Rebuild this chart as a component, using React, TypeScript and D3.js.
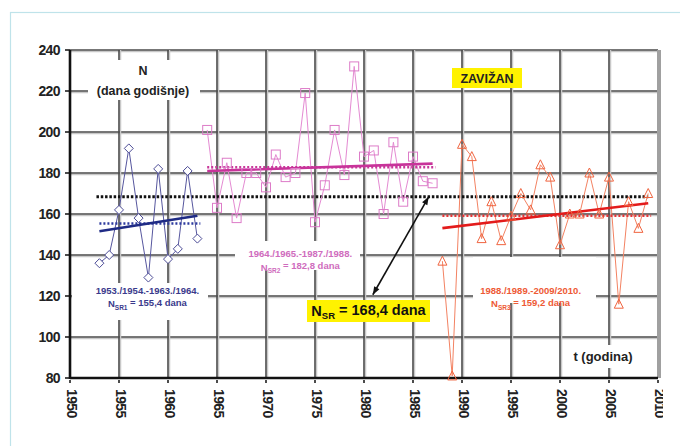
import React from "react";
import * as d3 from "d3";

// period 1: 1953/54 - 1963/64
const years1 = [1953, 1954, 1955, 1956, 1957, 1958, 1959, 1960, 1961, 1962, 1963];
const values1 = [136, 140, 162, 192, 158, 129, 182, 138, 143, 181, 148];
// period 2: 1964/65 - 1987/88
const years2 = [1964, 1965, 1966, 1967, 1968, 1969, 1970, 1971, 1972, 1973, 1974, 1975,
  1976, 1977, 1978, 1979, 1980, 1981, 1982, 1983, 1984, 1985, 1986, 1987];
const values2 = [201, 163, 185, 158, 180, 180, 173, 189, 178, 180, 219, 156,
  174, 201, 179, 232, 188, 191, 160, 195, 166, 188, 176, 175];
// period 3: 1988/89 - 2009/10
const years3 = [1988, 1989, 1990, 1991, 1992, 1993, 1994, 1995, 1996, 1997, 1998,
  1999, 2000, 2001, 2002, 2003, 2004, 2005, 2006, 2007, 2008, 2009];
const values3 = [137, 81, 194, 188, 148, 166, 147, 159, 170, 162, 184,
  178, 145, 160, 160, 180, 160, 178, 116, 166, 153, 170];

const xTicks = [1950, 1955, 1960, 1965, 1970, 1975, 1980, 1985, 1990, 1995, 2000, 2005, 2010];
const yTicks = [80, 100, 120, 140, 160, 180, 200, 220, 240];

const periodLabels = ["1953./1954.-1963./1964.", "1964./1965.-1987./1988.", "1988./1989.-2009/2010."];
const meanLabels = ["155,4", "182,8", "159,2"];

const W = 680;
const H = 446;
const x = d3.scaleLinear().domain([1950, 2010]).range([70, 658]);
const y = d3.scaleLinear().domain([80, 240]).range([378, 50]);

const FONT = "'Liberation Sans', Arial, sans-serif";

function fit(xs: number[], ys: number[]) {
  const mx = d3.mean(xs)!;
  const my = d3.mean(ys)!;
  let num = 0, den = 0;
  xs.forEach((v, i) => { num += (v - mx) * (ys[i] - my); den += (v - mx) ** 2; });
  const b = num / den;
  return (t: number) => my + b * (t - mx);
}

const series = [
  { years: years1, values: values1, line: "#56569e", mark: "#4b4b96", trend: "#1f2b85", dot: "#2d3a9e", text: "#3a3a8c", shape: "diamond" },
  { years: years2, values: values2, line: "#e48ad2", mark: "#dd7cc8", trend: "#c8339a", dot: "#c8389a", text: "#cf6cbd", shape: "square" },
  { years: years3, values: values3, line: "#f38262", mark: "#f0643f", trend: "#e31b1b", dot: "#e63535", text: "#ee5a35", shape: "triangle" },
];

function Marker({ shape, cx, cy, color }: { shape: string; cx: number; cy: number; color: string }) {
  if (shape === "diamond") {
    return <path d={`M${cx},${cy - 4.5}L${cx + 4.5},${cy}L${cx},${cy + 4.5}L${cx - 4.5},${cy}Z`} fill="white" stroke={color} strokeWidth={1} />;
  }
  if (shape === "square") {
    return <rect x={cx - 4.5} y={cy - 4.5} width={9} height={9} fill="none" stroke={color} strokeWidth={1} />;
  }
  return <path d={`M${cx},${cy - 5}L${cx + 4.5},${cy + 4}L${cx - 4.5},${cy + 4}Z`} fill="none" stroke={color} strokeWidth={1} />;
}

export default function App() {
  const line = d3.line<[number, number]>().x(d => x(d[0])).y(d => y(d[1]));
  const allValues = [...values1, ...values2, ...values3];
  const overall = d3.mean(allValues)!;
  const labelPos = [
    { cx: 1957.9, cy: 120, box: [72, 283, 208, 320] },
    { cx: 1973.5, cy: 138, box: [235, 241, 360, 270] },
    { cx: 1997.0, cy: 120, box: [473, 257, 596, 303] },
  ];

  // arrow between overall mean line and its label
  const a0: [number, number] = [x(1986.6), y(overall)];
  const a1: [number, number] = [x(1980.9), y(120.6)];
  const ang = Math.atan2(a1[1] - a0[1], a1[0] - a0[0]);
  const head = (p: [number, number], dir: number) => {
    const l = 8, w = 3;
    const bx = p[0] - Math.cos(dir) * l, by = p[1] - Math.sin(dir) * l;
    return `M${p[0]},${p[1]}L${bx - Math.sin(dir) * w},${by + Math.cos(dir) * w}L${bx + Math.sin(dir) * w},${by - Math.cos(dir) * w}Z`;
  };

  return (
    <svg width={W} height={H} style={{ position: "fixed", left: 0, top: 0, background: "white" }} fontFamily={FONT}>
      <defs>
        <clipPath id="tickclip"><rect x={0} y={380} width={663} height={66} /></clipPath>
      </defs>
      <rect x={10.5} y={12.5} width={720} height={500} fill="none" stroke="#bfe3ea" strokeWidth={1.2} />

      {/* grid */}
      <g>
        {yTicks.filter(t => t > 80).map(t => (
          <g key={"gy" + t}>
            <line x1={x(1950)} x2={x(2010)} y1={y(t) + 1.5} y2={y(t) + 1.5} stroke="#c8c8c8" strokeWidth={1.5} />
            <line x1={x(1950)} x2={x(2010)} y1={y(t)} y2={y(t)} stroke="#4a4a4a" strokeWidth={1.6} />
          </g>
        ))}
        {xTicks.filter(t => t > 1950 && t < 2010).map(t => (
          <g key={"gx" + t}>
            <line x1={x(t) + 1.5} x2={x(t) + 1.5} y1={y(240)} y2={y(80)} stroke="#c8c8c8" strokeWidth={1.5} />
            <line x1={x(t)} x2={x(t)} y1={y(240)} y2={y(80)} stroke="#4a4a4a" strokeWidth={1.6} />
          </g>
        ))}
        <line x1={x(2010) + 1} x2={x(2010) + 1} y1={y(240)} y2={y(80)} stroke="#a0a0a0" strokeWidth={4} />
      </g>

      {/* white label backgrounds */}
      <rect x={88} y={60} width={112} height={40} fill="white" />
      {labelPos.map((p, i) => (
        <rect key={"bg" + i} x={p.box[0]} y={p.box[1]} width={p.box[2] - p.box[0]} height={p.box[3] - p.box[1]} fill="white" />
      ))}
      <rect x={565} y={345} width={76} height={23} fill="white" />

      {/* axes */}
      <line x1={x(1950)} x2={x(1950)} y1={y(240)} y2={y(80) + 1} stroke="#111" strokeWidth={2.6} />
      <line x1={x(1950)} x2={x(2010)} y1={y(80)} y2={y(80)} stroke="#111" strokeWidth={2.6} />
      {yTicks.map(t => (
        <g key={"yt" + t}>
          <line x1={x(1950) - 5} x2={x(1950)} y1={y(t)} y2={y(t)} stroke="#111" strokeWidth={1.5} />
          <text x={60} y={y(t)} dy="0.35em" textAnchor="end" fontSize={14} fontWeight="bold" fill="#222" letterSpacing={-0.6}>{t}</text>
        </g>
      ))}
      <g clipPath="url(#tickclip)">
        {xTicks.map(t => (
          <g key={"xt" + t}>
            <line x1={x(t)} x2={x(t)} y1={y(80)} y2={y(80) + 5} stroke="#111" strokeWidth={1.5} />
            <text transform={`translate(${x(t) + 2},${389}) rotate(90)`} dy="0.35em" fontSize={14} fontWeight="bold" fill="#222" letterSpacing={-0.6}>{t}</text>
          </g>
        ))}
      </g>

      {/* overall mean */}
      <line x1={x(years1[0] - 0.3)} x2={x(years3[years3.length - 1])} y1={y(overall)} y2={y(overall)}
        stroke="#111" strokeWidth={3} strokeDasharray="2.5,1.8" />

      {/* series */}
      {series.map((s, i) => {
        const pts = s.years.map((yr, j) => [yr, s.values[j]] as [number, number]);
        const m = d3.mean(s.values)!;
        const f = fit(s.years, s.values);
        const x0 = s.years[0], x1 = s.years[s.years.length - 1];
        return (
          <g key={"s" + i}>
            <path d={line(pts)!} fill="none" stroke={s.line} strokeWidth={1} />
            <line x1={x(x0)} x2={x(x1 + 0.3)} y1={y(m)} y2={y(m)} stroke={s.dot} strokeWidth={2.6} strokeDasharray="2,2" />
            <line x1={x(x0)} x2={x(x1)} y1={y(f(x0))} y2={y(f(x1))} stroke={s.trend} strokeWidth={2.6} />
            {pts.map((p, j) => <Marker key={j} shape={s.shape} cx={x(p[0])} cy={y(p[1])} color={s.mark} />)}
          </g>
        );
      })}

      {/* period labels */}
      {labelPos.map((p, i) => (
        <text key={"pl" + i} x={x(p.cx)} y={y(p.cy)} textAnchor="middle" fontSize={9.5} fontWeight="bold" fill={series[i].text}>
          <tspan x={x(p.cx)} dy="-0.25em">{periodLabels[i]}</tspan>
          <tspan x={x(p.cx)} dy="1.45em">N</tspan>
          <tspan fontSize={6.5} dy="0.35em">SR{i + 1}</tspan>
          <tspan dy="-0.35em">{" = " + meanLabels[i] + " dana"}</tspan>
        </text>
      ))}

      {/* axis titles */}
      <text x={143} y={75} textAnchor="middle" fontSize={12.5} fontWeight="bold" fill="#222">N</text>
      <text x={143} y={95} textAnchor="middle" fontSize={12.5} fontWeight="bold" fill="#222">(dana godišnje)</text>
      <text x={603} y={361} textAnchor="middle" fontSize={13} fontWeight="bold" fill="#222">t (godina)</text>

      {/* station name */}
      <rect x={452} y={68} width={70} height={20} fill="#fff200" />
      <text x={487} y={78} dy="0.36em" textAnchor="middle" fontSize={12.5} fontWeight="bold" fill="#222">ZAVIŽAN</text>

      {/* overall mean label + arrow */}
      <line x1={a0[0]} y1={a0[1]} x2={a1[0]} y2={a1[1]} stroke="#111" strokeWidth={1.6} />
      <path d={head(a1, ang)} fill="#111" />
      <path d={head(a0, ang + Math.PI)} fill="#111" />
      <rect x={307} y={300} width={123} height={22} fill="#fff200" />
      <text x={368.5} y={311} dy="0.36em" textAnchor="middle" fontSize={14.5} fontWeight="bold" fill="#111">
        N<tspan fontSize={9.5} dy="0.3em">SR</tspan><tspan dy="-0.3em">{" = " + overall.toFixed(1).replace(".", ",") + " dana"}</tspan>
      </text>
    </svg>
  );
}
